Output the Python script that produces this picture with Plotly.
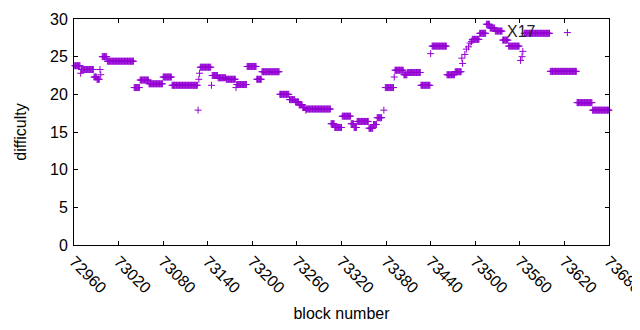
import plotly.graph_objects as go

# Runs of constant difficulty: first block, last block, difficulty
run_start = [72961, 72969, 72970, 72987, 72991, 72995, 72996, 72998, 73005, 73041,
             73049, 73061, 73080, 73092, 73127, 73128, 73129, 73130, 73145, 73146,
             73154, 73165, 73178, 73179, 73193, 73206, 73213, 73237, 73250, 73258,
             73263, 73268, 73272, 73273, 73306, 73311, 73321, 73333, 73337, 73341,
             73357, 73363, 73368, 73377, 73379, 73391, 73392, 73404, 73409, 73427,
             73440, 73442, 73462, 73473, 73482, 73483, 73486, 73488, 73491, 73493,
             73495, 73496, 73506, 73515, 73520, 73527, 73537, 73545, 73561, 73563,
             73564, 73566, 73601, 73624, 73637, 73658]
run_end = [72968, 72969, 72986, 72990, 72994, 72995, 72996, 73004, 73040, 73048,
           73060, 73079, 73091, 73126, 73127, 73128, 73129, 73144, 73145, 73153,
           73164, 73177, 73178, 73192, 73205, 73212, 73236, 73249, 73257, 73262,
           73267, 73271, 73272, 73305, 73310, 73320, 73332, 73336, 73340, 73356,
           73362, 73367, 73374, 73377, 73390, 73391, 73403, 73408, 73426, 73439,
           73440, 73461, 73472, 73481, 73482, 73483, 73486, 73488, 73491, 73493,
           73495, 73505, 73514, 73519, 73526, 73536, 73544, 73559, 73561, 73563,
           73564, 73600, 73636, 73624, 73657, 73680]
run_value = [23.8, 22.8, 23.3, 22.3, 22.0, 23.3, 22.6, 25.0, 24.4, 20.9,
             21.9, 21.4, 22.3, 21.2, 17.9, 22.0, 22.8, 23.6, 21.2, 22.5,
             22.2, 22.0, 20.9, 21.3, 23.7, 22.0, 23.0, 20.0, 19.3, 19.0,
             18.6, 18.25, 17.9, 18.05, 16.1, 15.6, 17.1, 16.1, 15.6, 16.4,
             15.5, 16.0, 16.9, 17.9, 20.9, 22.3, 23.2, 22.6, 22.9, 21.2,
             25.4, 26.4, 22.6, 23.0, 24.8, 24.1, 25.3, 26.0, 26.3, 26.8,
             27.0, 27.3, 28.1, 29.3, 28.8, 28.4, 27.2, 26.4, 24.5, 25.0,
             25.7, 28.1, 23.05, 28.2, 18.9, 17.9]

x_ticks = list(range(72960, 73681, 60))
y_ticks = [0, 5, 10, 15, 20, 25, 30]

label_text = "X17"
label_x = 73540
label_y = 28.3

blocks, diffs = [], []
for s, e, v in zip(run_start, run_end, run_value):
    for b in range(s, e + 1):
        blocks.append(b)
        diffs.append(v)

font = "Liberation Sans, Arial, sans-serif"

fig = go.Figure()
fig.add_trace(go.Scatter(
    x=blocks, y=diffs, mode="markers", cliponaxis=False,
    marker=dict(symbol="cross-thin", size=5, color="#9400D3",
                line=dict(color="#9400D3", width=1)),
    showlegend=False,
))

fig.add_annotation(x=label_x, y=label_y, text=label_text, showarrow=False,
                   xanchor="left", yanchor="middle",
                   font=dict(family=font, size=16, color="#222222"))

axis_common = dict(showline=True, linecolor="black", linewidth=1, mirror="allticks",
                   ticks="inside", ticklen=4, tickcolor="black", tickwidth=1,
                   showgrid=False, zeroline=False, ticklabeloverflow="allow",
                   tickfont=dict(family=font, size=16, color="black"))

fig.update_xaxes(range=[72960, 73680], tickvals=x_ticks,
                 ticktext=[str(t) for t in x_ticks], tickangle=45,
                 title=dict(text="block number", font=dict(family=font, size=16, color="black"),
                            standoff=12),
                 **axis_common)
fig.update_yaxes(range=[0, 30], tickvals=y_ticks,
                 title=dict(text="difficulty", font=dict(family=font, size=16, color="black"),
                            standoff=19),
                 ticklabelstandoff=2,
                 **axis_common)

# the page body adds an 8px margin, so the figure is shrunk and margins offset by it
fig.update_layout(width=632, height=322, plot_bgcolor="white", paper_bgcolor="white",
                  margin=dict(l=66, r=31, t=11, b=85, autoexpand=False),
                  font=dict(family=font, size=16, color="black"))

fig.write_html("out.html")
